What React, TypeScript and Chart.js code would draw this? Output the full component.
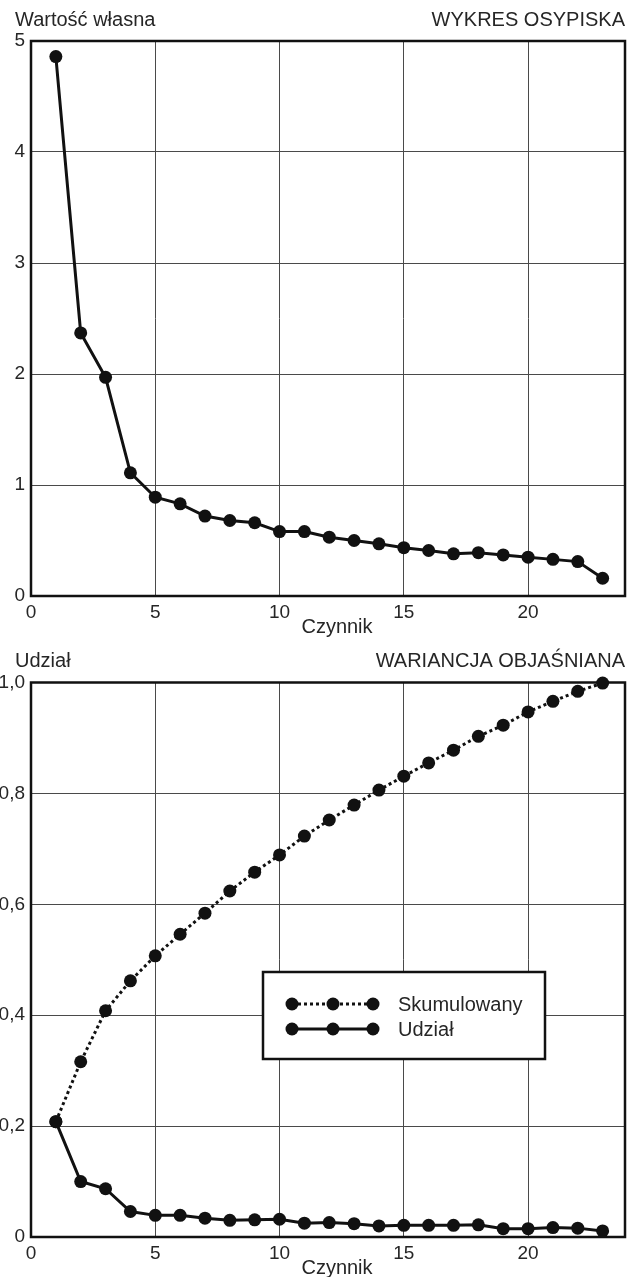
import React, { useEffect, useRef } from "react";
import { Chart, registerables } from "chart.js";

Chart.register(...registerables);

// ---------- data ----------
const factors = [1, 2, 3, 4, 5, 6, 7, 8, 9, 10, 11, 12, 13, 14, 15, 16, 17, 18, 19, 20, 21, 22, 23];
const eigenvalues = [4.86, 2.37, 1.97, 1.11, 0.89, 0.83, 0.72, 0.68, 0.66, 0.58, 0.58, 0.53, 0.5, 0.47, 0.435, 0.41, 0.38, 0.39, 0.37, 0.35, 0.33, 0.31, 0.16];
const cumulative = [0.208, 0.316, 0.408, 0.462, 0.507, 0.546, 0.584, 0.624, 0.658, 0.689, 0.723, 0.752, 0.779, 0.806, 0.831, 0.855, 0.878, 0.903, 0.923, 0.947, 0.966, 0.984, 0.999];
const proportion = [0.208, 0.1, 0.087, 0.046, 0.039, 0.039, 0.034, 0.03, 0.031, 0.032, 0.025, 0.026, 0.024, 0.02, 0.021, 0.021, 0.021, 0.022, 0.015, 0.015, 0.017, 0.016, 0.011];
const screeYLabels = ["0", "1", "2", "3", "4", "5"];
const varYLabels = ["0", "0,2", "0,4", "0,6", "0,8", "1,0"];
const xLabel = "Czynnik";
const screeYTitle = "Wartość własna";
const screeTitle = "WYKRES OSYPISKA";
const varYTitle = "Udział";
const varTitle = "WARIANCJA OBJAŚNIANA";
const seriesNames = ["Skumulowany", "Udział"];

// ---------- style ----------
const FONT = '"Liberation Sans", Arial, Helvetica, sans-serif';
const TEXT = "#262626";
const INK = "#111111";
const GRID = "#4a4a4a";
const FS = 19;
const TFS = 20;

Chart.defaults.font.family = FONT;

const framePlugin = {
  id: "frame",
  beforeDatasetsDraw(chart: any) {
    const { ctx, chartArea: a } = chart;
    ctx.save();
    ctx.strokeStyle = INK;
    ctx.lineWidth = 2.5;
    ctx.strokeRect(a.left, a.top, a.right - a.left, a.bottom - a.top);
    ctx.restore();
  },
};

function textPlugin(left: string, right: string, titleBase: number, axisBase: number) {
  return {
    id: "texts",
    afterDraw(chart: any) {
      const { ctx, chartArea: a } = chart;
      ctx.save();
      ctx.fillStyle = TEXT;
      ctx.font = `${TFS}px ${FONT}`;
      ctx.textBaseline = "alphabetic";
      ctx.textAlign = "left";
      ctx.fillText(left, 15, titleBase);
      ctx.textAlign = "right";
      ctx.fillText(right, a.right, titleBase);
      ctx.textAlign = "center";
      ctx.fillText(xLabel, (a.left + a.right) / 2 + 9, axisBase);
      ctx.restore();
    },
  };
}

const legendPlugin = {
  id: "boxLegend",
  afterDatasetsDraw(chart: any) {
    const { ctx } = chart;
    const bx = 263, by = 332, bw = 282, bh = 87;
    ctx.save();
    ctx.fillStyle = "#ffffff";
    ctx.fillRect(bx, by, bw, bh);
    ctx.strokeStyle = INK;
    ctx.lineWidth = 2.5;
    ctx.strokeRect(bx, by, bw, bh);
    const rows = [
      { y: by + 32, dash: [3, 3], width: 3, name: seriesNames[0] },
      { y: by + 57, dash: [], width: 3, name: seriesNames[1] },
    ];
    const xs = [292, 333, 373];
    rows.forEach((r) => {
      ctx.strokeStyle = INK;
      ctx.lineWidth = r.width;
      ctx.setLineDash(r.dash);
      ctx.beginPath();
      ctx.moveTo(xs[0], r.y);
      ctx.lineTo(xs[2], r.y);
      ctx.stroke();
      ctx.setLineDash([]);
      ctx.fillStyle = INK;
      xs.forEach((x) => {
        ctx.beginPath();
        ctx.arc(x, r.y, 6.5, 0, Math.PI * 2);
        ctx.fill();
      });
      ctx.fillStyle = TEXT;
      ctx.font = `${TFS}px ${FONT}`;
      ctx.textAlign = "left";
      ctx.textBaseline = "alphabetic";
      ctx.fillText(r.name, 398, r.y + 7);
    });
    ctx.restore();
  },
};

function lineDataset(label: string, values: number[], dashed: boolean) {
  return {
    label,
    data: factors.map((f, i) => ({ x: f, y: values[i] })),
    borderColor: INK,
    backgroundColor: INK,
    borderWidth: 3,
    borderDash: dashed ? [3, 3] : [],
    pointRadius: 6.5,
    pointHoverRadius: 6.5,
    pointBackgroundColor: INK,
    pointBorderColor: INK,
    pointBorderWidth: 0,
    tension: 0,
    clip: false,
  };
}

function makeOptions(yMax: number, yStep: number, yLabels: string[], padTop: number, xAxisHeight: number) {
  return {
    animation: false,
    responsive: false,
    events: [],
    layout: { padding: { top: padTop, right: 10, left: 0, bottom: 0 } },
    plugins: { legend: { display: false }, tooltip: { enabled: false }, title: { display: false } },
    scales: {
      x: {
        type: "linear",
        min: 0,
        max: 23.9,
        ticks: {
          stepSize: 5,
          includeBounds: false,
          padding: 5,
          color: TEXT,
          font: { size: FS, family: FONT },
          maxRotation: 0,
          autoSkip: false,
        },
        grid: { color: GRID, lineWidth: 1, drawTicks: false },
        border: { display: false },
        afterFit: (s: any) => {
          s.height = xAxisHeight;
        },
      },
      y: {
        type: "linear",
        min: 0,
        max: yMax,
        ticks: {
          stepSize: yStep,
          padding: 6,
          color: TEXT,
          font: { size: FS, family: FONT },
          callback: (v: number) => yLabels[Math.round(v / yStep)] ?? "",
        },
        grid: { color: GRID, lineWidth: 1, drawTicks: false },
        border: { display: false },
        afterFit: (s: any) => {
          s.width = 31;
        },
      },
    },
  };
}

export default function App() {
  const topRef = useRef<HTMLCanvasElement | null>(null);
  const botRef = useRef<HTMLCanvasElement | null>(null);

  useEffect(() => {
    const top = new Chart(topRef.current as HTMLCanvasElement, {
      type: "line",
      data: { datasets: [lineDataset(screeYTitle, eigenvalues, false)] },
      options: makeOptions(5, 1, screeYLabels, 41, 44) as any,
      plugins: [framePlugin, textPlugin(screeYTitle, screeTitle, 26, 633)],
    } as any);
    const bot = new Chart(botRef.current as HTMLCanvasElement, {
      type: "line",
      data: {
        datasets: [
          lineDataset(seriesNames[0], cumulative, true),
          lineDataset(seriesNames[1], proportion, false),
        ],
      },
      options: makeOptions(1, 0.2, varYLabels, 42.5, 40) as any,
      plugins: [framePlugin, legendPlugin, textPlugin(varYTitle, varTitle, 27, 634)],
    } as any);
    return () => {
      top.destroy();
      bot.destroy();
    };
  }, []);

  return (
    <div style={{ position: "absolute", left: 0, top: 0, width: 635, height: 1277, background: "#fff", overflow: "hidden" }}>
      <canvas ref={topRef} width={635} height={640} style={{ position: "absolute", left: 0, top: 0, width: 635, height: 640 }} />
      <canvas ref={botRef} width={635} height={637} style={{ position: "absolute", left: 0, top: 640, width: 635, height: 637 }} />
    </div>
  );
}
